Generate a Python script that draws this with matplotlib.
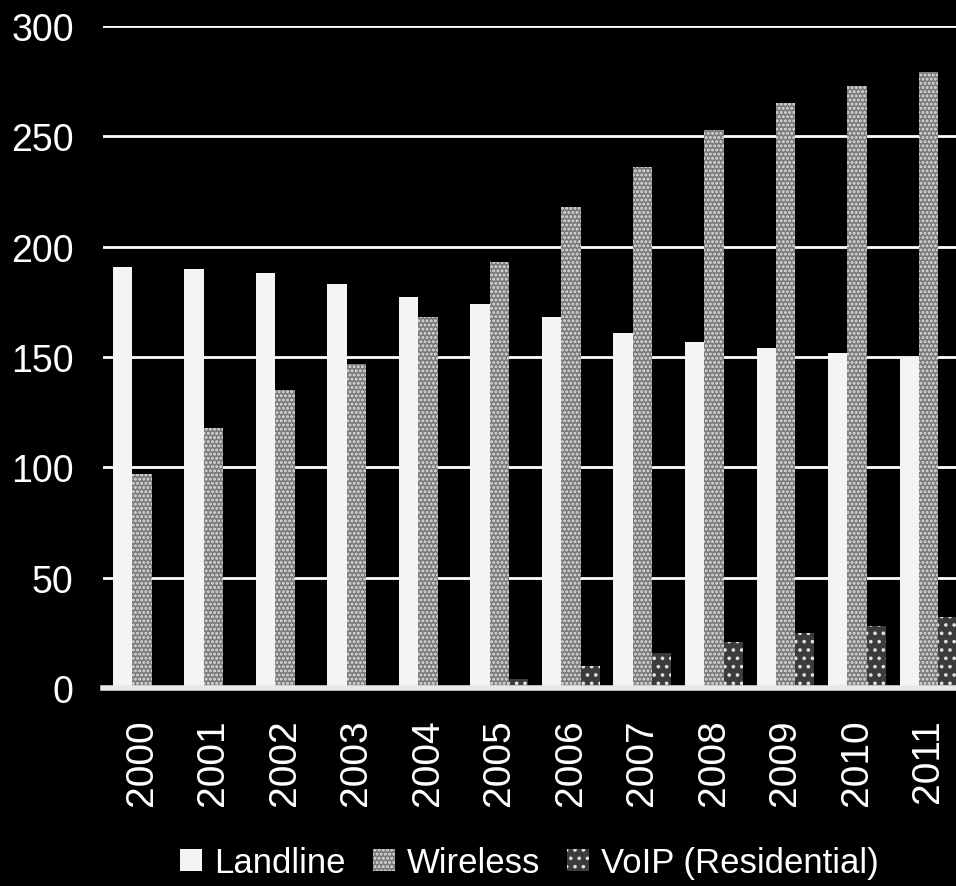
import numpy as np
import matplotlib
matplotlib.use("Agg")
import matplotlib.pyplot as plt

years = ["2000", "2001", "2002", "2003", "2004", "2005",
         "2006", "2007", "2008", "2009", "2010", "2011"]
landline = [191, 190, 188, 183, 177, 174, 168, 161, 157, 154, 152, 150]
wireless = [97, 118, 135, 147, 168, 193, 218, 236, 253, 265, 273, 279]
voip = [0, 0, 0, 0, 0, 4, 10, 16, 21, 25, 28, 32]
y_ticks = [0, 50, 100, 150, 200, 250, 300]

plt.rcParams["font.family"] = ["Liberation Sans", "DejaVu Sans"]
plt.rcParams["hatch.color"] = "#e0e0e0"
plt.rcParams["hatch.linewidth"] = 1.4

fig = plt.figure(figsize=(9.56, 8.87), dpi=100, facecolor="black")
ax = fig.add_axes([0.1077, 0.2232, 0.8923, 0.7464], facecolor="black")

x = np.arange(len(years))
w = 0.27
ax.bar(x - w, landline, w, color="#f4f4f4", label="Landline", zorder=3)
ax.bar(x, wireless, w, color="#7a7a7a", hatch="....", label="Wireless", zorder=3)
ax.bar(x + w, voip, w, color="#3c3c3c", hatch="..", label="VoIP (Residential)", zorder=3)

ax.set_ylim(0, 300)
ax.set_xlim(-0.545, 11.385)
ax.set_yticks(y_ticks)
ax.yaxis.grid(True, color="white", linewidth=2.0, zorder=0)
ax.set_axisbelow(True)
for s in ("top", "right", "left"):
    ax.spines[s].set_visible(False)
ax.spines["bottom"].set_color("#e8e8e8")
ax.spines["bottom"].set_linewidth(4)
ax.spines["bottom"].set_zorder(4)

ax.set_xticks(x)
ax.set_xticklabels(years, rotation=90, fontsize=28, color="white")
ax.tick_params(axis="x", length=0, pad=22)
ax.tick_params(axis="y", length=0, pad=21, labelsize=27, labelcolor="white")

leg = ax.legend(loc="center", bbox_to_anchor=(0.5, -0.264), ncol=3,
                frameon=False, fontsize=25, handlelength=0.63,
                handleheight=0.63, handletextpad=0.35, columnspacing=0.78,
                labelcolor="white")

fig.savefig("out.png", dpi=100, facecolor="black")
